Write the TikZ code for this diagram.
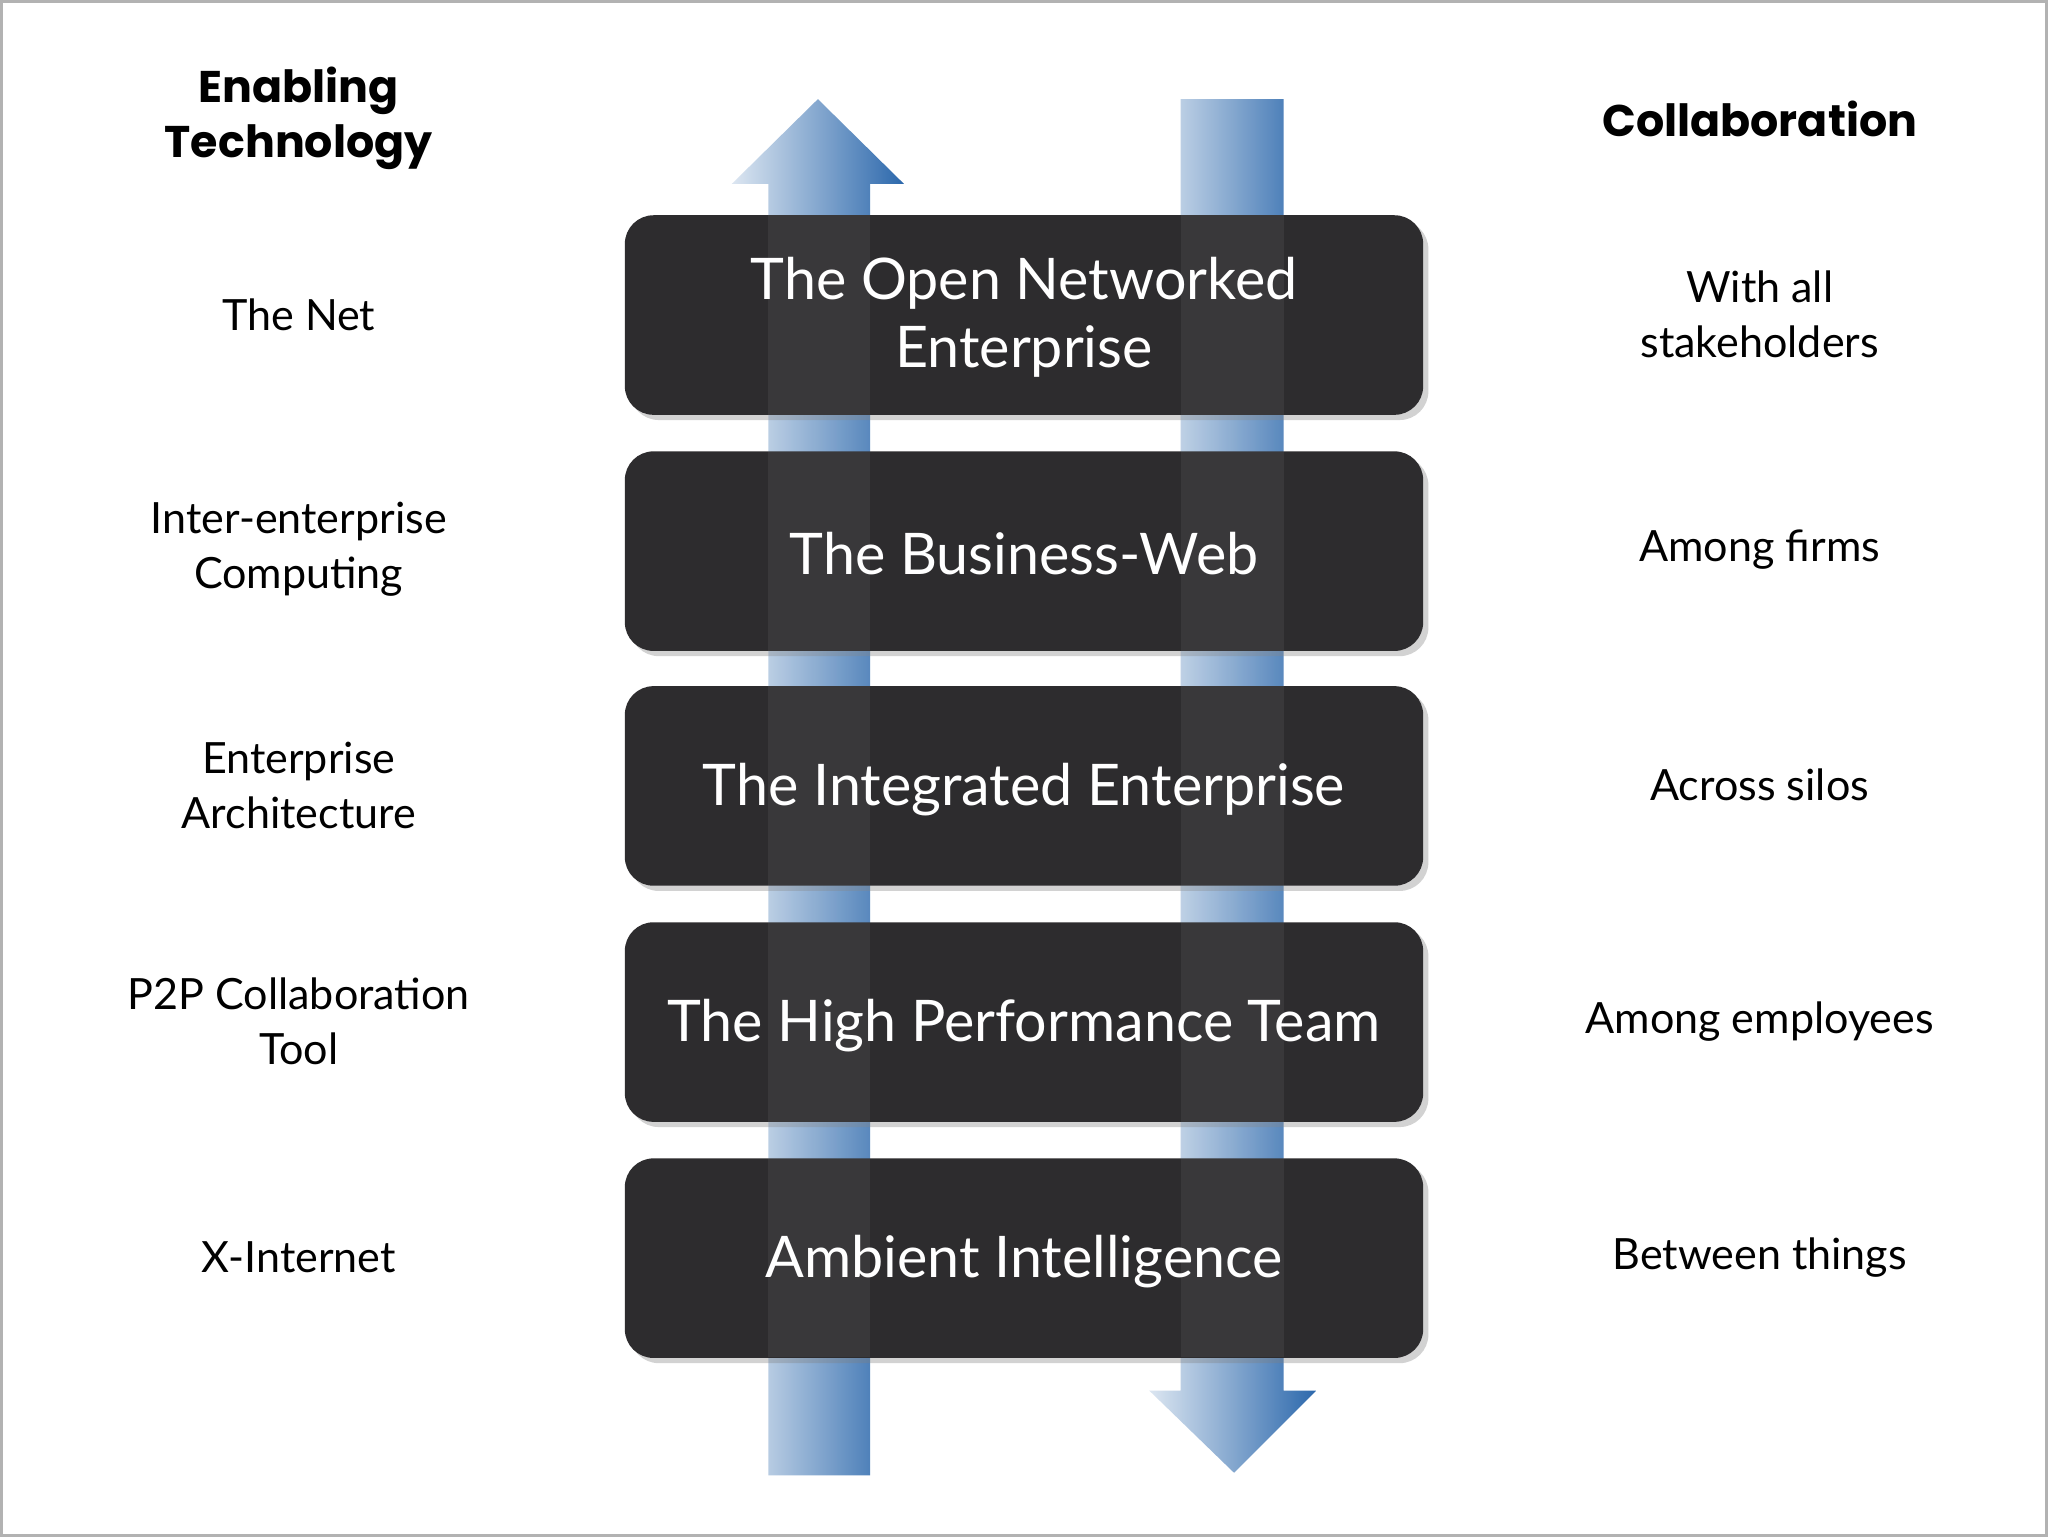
\documentclass[tikz,border=0pt]{standalone}
\usepackage{fontspec}
\setmainfont{Lato}
\newfontfamily\headf{Poppins}
\usetikzlibrary{shadows}
\definecolor{boxc}{HTML}{2D2C2E}
\definecolor{arrb}{HTML}{2C68AC}
\definecolor{arrl}{HTML}{DCE6F1}
\begin{document}
\begin{tikzpicture}[x=0.5pt,y=-0.5pt,
  box/.style={fill=boxc,rounded corners=11pt,drop shadow={opacity=0.35,shadow xshift=2pt,shadow yshift=-2pt}},
  btxt/.style={text=white,font=\fontsize{22}{26}\selectfont,align=center},
  side/.style={font=\fontsize{16.5}{21}\selectfont,align=center},
  head/.style={font=\headf\bfseries\fontsize{17}{21}\selectfont,align=center},
  upar/.style={left color=arrl,right color=arrb,shading angle=90},
]
\fill[white] (0,0) rectangle (1568,1176);
\draw[gray!60,line width=1pt] (0,0) rectangle (1568,1176);
% arrows
\newcommand{\uparrowpath}{(588,1130) -- (588,140) -- (560,140) -- (626,75) -- (692,140) -- (666,140) -- (666,1130) -- cycle}
\newcommand{\downarrowpath}{(904,75) -- (904,1065) -- (880,1065) -- (945,1128) -- (1008,1065) -- (983,1065) -- (983,75) -- cycle}
\shade[left color=arrl,right color=arrb] \uparrowpath;
\shade[left color=arrl,right color=arrb] \downarrowpath;
% boxes
\foreach \n/\y in {b1/164,b2/345,b3/525,b4/706,b5/887}{
  \path[box] (478,\y) rectangle (1090,\y+153);
}
\fill[white,opacity=0.06] (588,164) rectangle (666,1039);
\fill[white,opacity=0.06] (904,164) rectangle (983,1039);
\node[btxt] (t1) at (784,242) {The Open Networked\\Enterprise};
\node[btxt] (t2) at (784,423) {The Business-Web};
\node[btxt] (t3) at (784,604) {The Integrated Enterprise};
\node[btxt] (t4) at (784,785) {The High Performance Team};
\node[btxt] (t5) at (784,966) {Ambient Intelligence};
% headings
\node[head] (h1) at (228,90) {Enabling\\Technology};
\node[head] (h2) at (1348,90) {Collaboration};
% left
\node[side] (l1) at (228,240) {The Net};
\node[side] (l2) at (228,420) {Inter-enterprise\\Computing};
\node[side] (l3) at (228,601) {Enterprise\\Architecture};
\node[side] (l4) at (228,782) {P2P Collaboration\\Tool};
\node[side] (l5) at (228,963) {X-Internet};
% right
\node[side] (r1) at (1348,240) {With all\\stakeholders};
\node[side] (r2) at (1348,420) {Among firms};
\node[side] (r3) at (1348,601) {Across silos};
\node[side] (r4) at (1348,782) {Among employees};
\node[side] (r5) at (1348,963) {Between things};
\end{tikzpicture}
\end{document}
